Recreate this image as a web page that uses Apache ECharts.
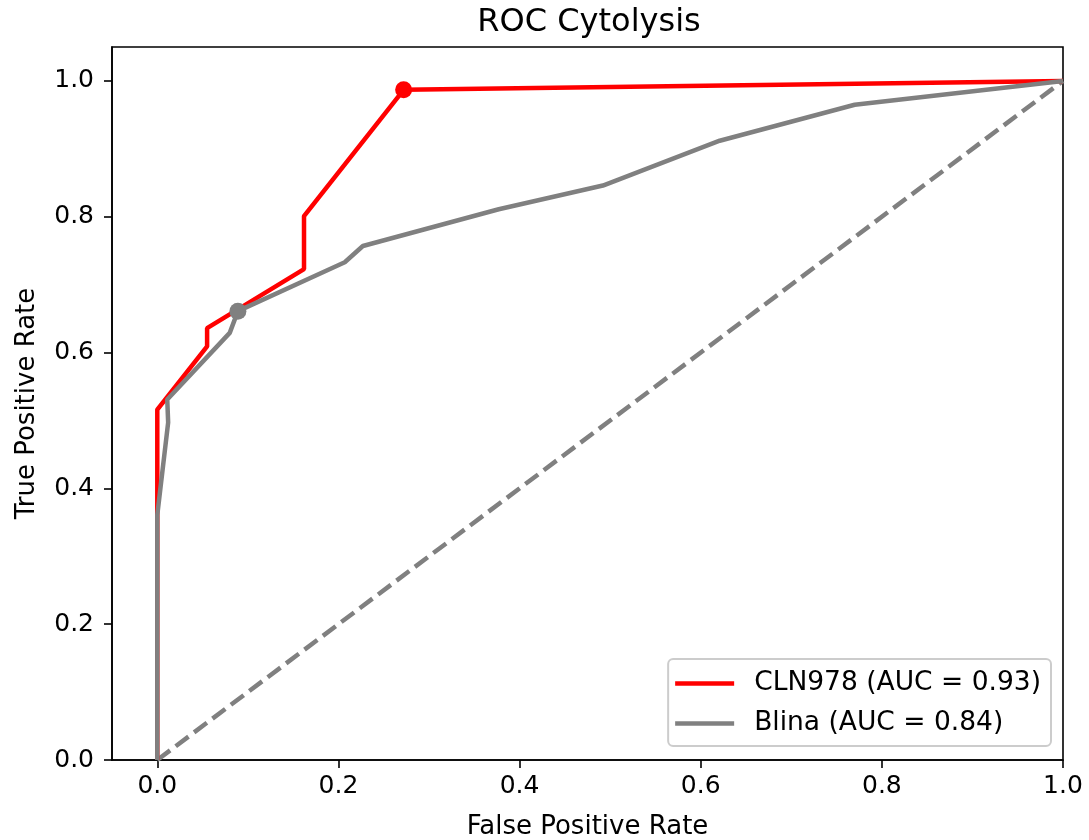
<!DOCTYPE html>
<html>
<head>
<meta charset="utf-8">
<title>ROC Cytolysis</title>
<script src="https://cdn.jsdelivr.net/npm/echarts@6/dist/echarts.min.js"></script>
<style>
  html, body { margin: 0; padding: 0; background: #fff; }
  #roc { width: 1089px; height: 840px; }
</style>
</head>
<body>
<div id="roc"></div>
<script>
// ROC data
var clnFpr = [0, 0, 0.055, 0.055, 0.162, 0.162, 0.272, 1.0];
var clnTpr = [0, 0.516, 0.609, 0.636, 0.723, 0.801, 0.987, 1.0];
var clnBest = [0.272, 0.987];

var blinaFpr = [0, 0, 0.012, 0.011, 0.080, 0.089, 0.207, 0.227, 0.377, 0.492, 0.621, 0.770, 1.0];
var blinaTpr = [0, 0.361, 0.497, 0.531, 0.629, 0.661, 0.733, 0.757, 0.811, 0.846, 0.912, 0.965, 1.0];
var blinaBest = [0.089, 0.661];

var chanceX = [0, 1];
var chanceY = [0, 1];

var ticks = [0, 0.2, 0.4, 0.6, 0.8, 1.0];

function pairs(xs, ys){
    var out = [];
    for (var i = 0; i < xs.length; i++) out.push([xs[i], ys[i]]);
    return out;
}

var font = 'DejaVu Sans';

var option = {
    animation: false,
    backgroundColor: '#fff',
    title: {
        text: 'ROC Cytolysis',
        left: 584,
        textAlign: 'center',
        top: 2,
        textStyle: { fontFamily: font, fontWeight: 'normal', fontSize: 32, color: '#000' }
    },
    grid: {
        left: 112, right: 26, top: 47, bottom: 80,
        outerBoundsMode: 'none',
        containLabel: false,
        show: true, borderColor: '#000', borderWidth: 1.6
    },
    legend: {
        orient: 'vertical',
        right: 38, bottom: 94,
        data: ['CLN978 (AUC = 0.93)', 'Blina (AUC = 0.84)'],
        icon: 'rect',
        itemWidth: 59, itemHeight: 4.5,
        itemGap: 13,
        padding: [11, 10, 9, 7],
        backgroundColor: 'rgba(255,255,255,0.8)',
        borderColor: '#cccccc', borderWidth: 2, borderRadius: 5,
        textStyle: { fontFamily: font, fontSize: 26.5, lineHeight: 26, color: '#000', padding: [0, 0, 0, 15] }
    },
    xAxis: {
        type: 'value',
        min: -0.05, max: 1.0,
        name: 'False Positive Rate',
        nameLocation: 'middle',
        nameGap: 54,
        nameTextStyle: { fontFamily: font, fontSize: 26, color: '#000' },
        splitLine: { show: false },
        axisLine: { show: true, onZero: false, lineStyle: { color: '#000', width: 1.6 } },
        axisTick: { show: true, customValues: ticks, length: 8, lineStyle: { color: '#000', width: 1.6 } },
        axisLabel: { customValues: ticks, margin: 14, fontFamily: font, fontSize: 25, color: '#000',
            formatter: function(v){ return v.toFixed(1); } }
    },
    yAxis: {
        type: 'value',
        min: 0, max: 1.05,
        name: 'True Positive Rate',
        nameLocation: 'middle',
        nameGap: 72,
        nameTextStyle: { fontFamily: font, fontSize: 26, color: '#000' },
        splitLine: { show: false },
        axisLine: { show: true, onZero: false, lineStyle: { color: '#000', width: 1.6 } },
        axisTick: { show: true, customValues: ticks, length: 8, lineStyle: { color: '#000', width: 1.6 } },
        axisLabel: { customValues: ticks, margin: 18, fontFamily: font, fontSize: 25, color: '#000',
            formatter: function(v){ return v.toFixed(1); } }
    },
    series: [
        {
            name: 'CLN978 (AUC = 0.93)',
            type: 'line',
            data: pairs(clnFpr, clnTpr),
            showSymbol: false,
            color: '#ff0000',
            lineStyle: { color: '#ff0000', width: 4.5 },
            z: 2
        },
        {
            name: 'CLN978 best',
            type: 'scatter',
            data: [clnBest],
            symbolSize: 17,
            itemStyle: { color: '#ff0000', opacity: 1 },
            z: 3
        },
        {
            name: 'Blina (AUC = 0.84)',
            type: 'line',
            data: pairs(blinaFpr, blinaTpr),
            showSymbol: false,
            color: '#808080',
            lineStyle: { color: '#808080', width: 4.5 },
            z: 4
        },
        {
            name: 'Blina best',
            type: 'scatter',
            data: [blinaBest],
            symbolSize: 17,
            itemStyle: { color: '#808080', opacity: 1 },
            z: 5
        },
        {
            name: 'chance',
            type: 'line',
            data: pairs(chanceX, chanceY),
            showSymbol: false,
            lineStyle: { color: '#808080', width: 4.5, type: [16, 7] },
            z: 1
        }
    ]
};

var myChart_roc = echarts.init(document.getElementById('roc'));
myChart_roc.setOption(option);
</script>
</body>
</html>
